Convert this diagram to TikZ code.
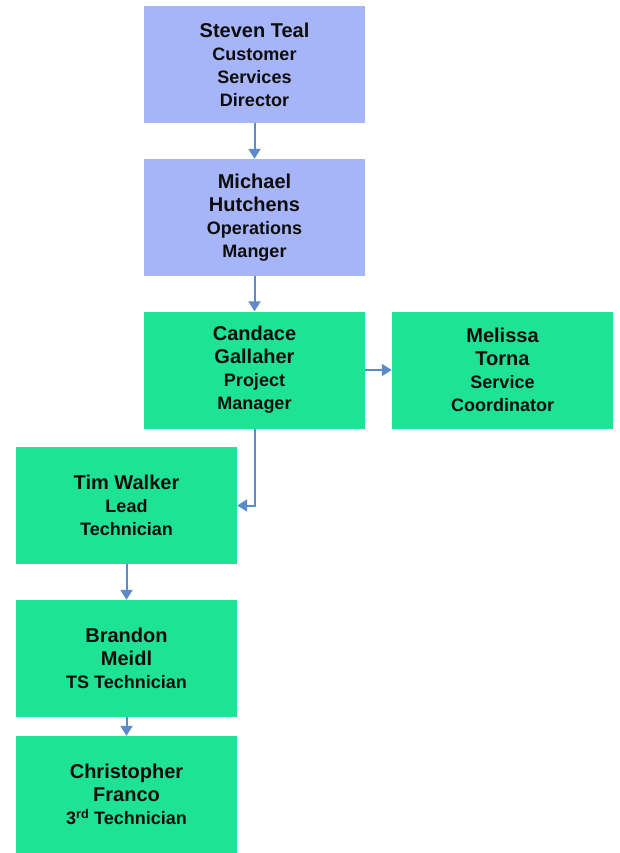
\documentclass[tikz,border=0pt]{standalone}
\usepackage{fontspec}
\setmainfont{Liberation Sans}
\usetikzlibrary{arrows.meta}
\definecolor{boxblue}{HTML}{A5B5F8}
\definecolor{boxgreen}{HTML}{1EE394}
\definecolor{arrowblue}{HTML}{5B8BC9}
\newcommand{\pname}[1]{{\fontsize{20}{25}\selectfont #1}}
\tikzset{
  person/.style={rectangle, draw=none, minimum width=221pt, minimum height=117pt,
    align=center, inner sep=0pt, font=\fontsize{18}{23}\selectfont\bfseries, text=black!95},
  bluebox/.style={person, fill=boxblue},
  greenbox/.style={person, fill=boxgreen},
  link/.style={draw=arrowblue, line width=2pt, -{Triangle[length=10pt,width=12pt]}}
}
\begin{document}
\begin{tikzpicture}[x=1pt,y=-1pt]
\useasboundingbox[fill=white] (0,0) rectangle (619,853);
\node[bluebox] (steven) at (254.5,64.5) {\pname{Steven Teal}\\Customer\\Services\\Director};
\node[bluebox] (michael) at (254.5,217.5) {\pname{Michael}\\\pname{Hutchens}\\Operations\\Manger};
\node[greenbox] (candace) at (254.5,370) {\pname{Candace}\\\pname{Gallaher}\\Project\\Manager};
\node[greenbox] (melissa) at (502.5,370) {\pname{Melissa}\\\pname{Torna}\\Service\\Coordinator};
\node[greenbox] (tim) at (126.5,505.5) {\pname{Tim Walker}\\Lead\\Technician};
\node[greenbox] (brandon) at (126.5,658.5) {\pname{Brandon}\\\pname{Meidl}\\TS Technician};
\node[greenbox] (chris) at (126.5,794.5) {\pname{Christopher}\\\pname{Franco}\\3\textsuperscript{rd} Technician};
\draw[link] (steven) -- (michael);
\draw[link] (michael) -- (candace);
\draw[link] (candace) -- (melissa);
\draw[link] (candace.south) |- (tim.east);
\draw[link] (tim) -- (brandon);
\draw[link] (brandon) -- (chris);
\end{tikzpicture}
\end{document}
